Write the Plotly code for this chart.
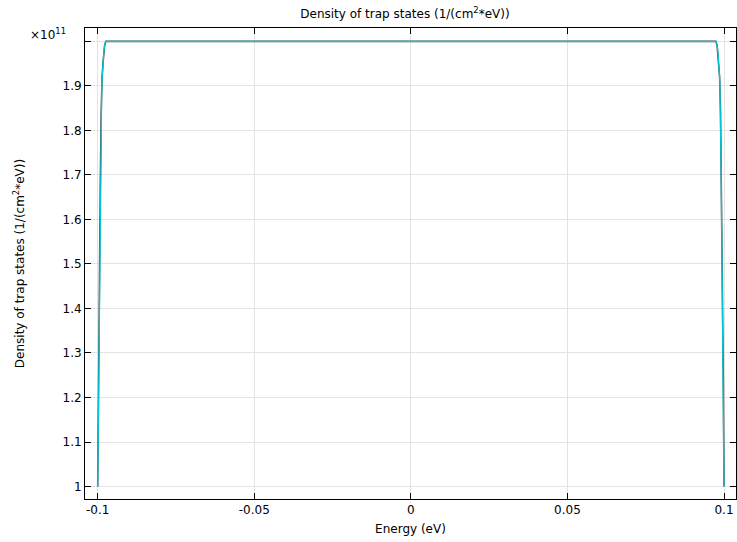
import plotly.graph_objects as go

# Energy (eV) and density of trap states (units of 1e11 1/(cm^2*eV))
energy_fine = [-0.1, -0.09985, -0.0997, -0.0995, -0.0993, -0.0991, -0.0989, -0.0987,
               -0.0985, -0.0983, -0.0980, -0.0977, -0.0974,
               0.0974, 0.0977, 0.0980, 0.0983, 0.0985, 0.0987, 0.0989, 0.0991,
               0.0993, 0.0995, 0.0997, 0.09985, 0.1]
density_fine = [1.0, 1.12, 1.25, 1.40, 1.55, 1.70, 1.82, 1.90,
                1.93, 1.955, 1.98, 1.995, 2.0,
                2.0, 1.995, 1.98, 1.955, 1.93, 1.90, 1.82, 1.70,
                1.55, 1.40, 1.25, 1.12, 1.0]

energy_coarse = [-0.1, -0.0998, -0.0995, -0.0992, -0.0989, -0.0986, -0.0982, -0.0978, -0.0974,
                 0.0974, 0.0978, 0.0982, 0.0986, 0.0989, 0.0992, 0.0995, 0.0998, 0.1]
density_coarse = [1.0, 1.22, 1.44, 1.66, 1.84, 1.92, 1.96, 1.99, 2.0,
                  2.0, 1.99, 1.96, 1.92, 1.84, 1.66, 1.44, 1.22, 1.0]

x_ticks = [-0.1, -0.05, 0, 0.05, 0.1]
x_tick_labels = ["-0.1", "-0.05", "0", "0.05", "0.1"]
y_ticks = [1.0, 1.1, 1.2, 1.3, 1.4, 1.5, 1.6, 1.7, 1.8, 1.9, 2.0]
y_tick_labels = ["1", "1.1", "1.2", "1.3", "1.4", "1.5", "1.6", "1.7", "1.8", "1.9", ""]

fig = go.Figure()
fig.add_trace(go.Scatter(x=energy_coarse, y=density_coarse, mode="lines",
                         line=dict(color="#4a5656", width=1.6), showlegend=False))
fig.add_trace(go.Scatter(x=energy_fine, y=density_fine, mode="lines",
                         line=dict(color="#00c8d8", width=1.2), showlegend=False))

font = dict(family="DejaVu Sans", size=12, color="black")
fig.update_layout(
    width=737, height=542,
    margin=dict(l=85, r=1, t=28, b=43, autoexpand=False),
    paper_bgcolor="white", plot_bgcolor="white",
    font=font,
    title=dict(text="Density of trap states (1/(cm<sup>2</sup>*eV))", x=0.5495, xanchor="center",
               y=1 - 14 / 542, yanchor="middle", font=font),
    xaxis=dict(range=[-0.10406, 0.10383], tickvals=x_ticks, ticktext=x_tick_labels,
               ticks="inside", ticklen=6, tickcolor="black", showline=True, linecolor="black",
               linewidth=1, mirror="ticks", showgrid=True, gridcolor="#e3e3e3", zeroline=False,
               automargin=False,
               title=dict(text="Energy (eV)", standoff=8, font=font), tickfont=font),
    yaxis=dict(range=[0.972, 2.030], tickvals=y_ticks, ticktext=y_tick_labels,
               ticks="inside", ticklen=6, tickcolor="black", showline=True, linecolor="black",
               linewidth=1, mirror="ticks", showgrid=True, gridcolor="#e3e3e3", zeroline=False,
               automargin=False,
               title=dict(text="Density of trap states (1/(cm<sup>2</sup>*eV))", standoff=35, font=font),
               tickfont=font),
    annotations=[dict(text="×10<sup>11</sup>", xref="paper", yref="paper", x=-0.026, y=0.987,
                      xanchor="right", yanchor="middle", showarrow=False, font=font)],
)
fig.write_html("out.html", config={"displayModeBar": False},
               post_script="document.body.style.margin='0';document.body.style.overflow='hidden';")
